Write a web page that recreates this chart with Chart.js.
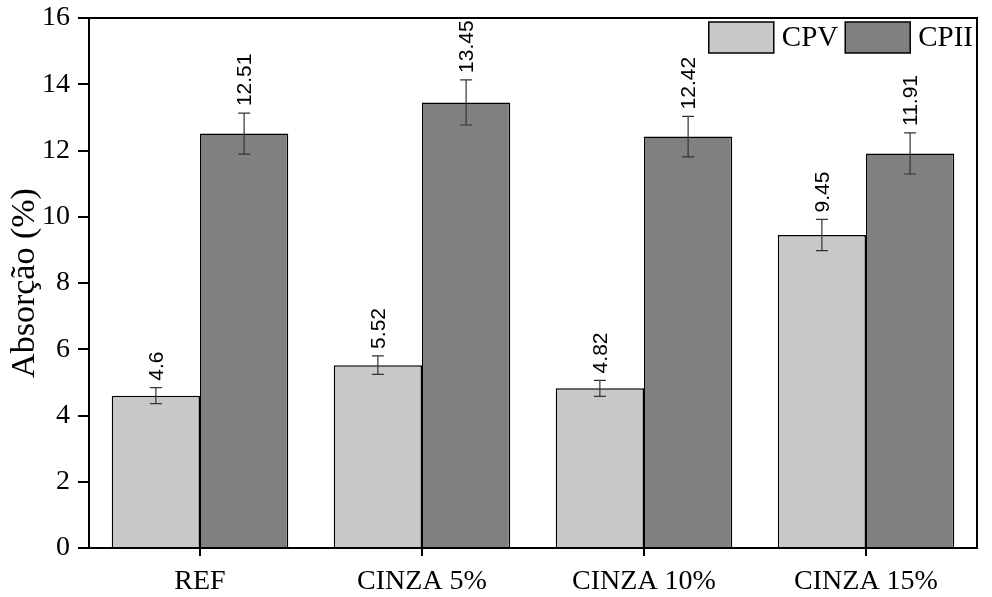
<!DOCTYPE html>
<html>
<head>
<meta charset="utf-8">
<script src="https://cdn.jsdelivr.net/npm/chart.js@4"></script>
<style>
html,body{margin:0;padding:0;background:#fff;}
#wrap{width:992px;height:597px;}
</style>
</head>
<body>
<div id="wrap"><canvas id="c" width="992" height="597"></canvas></div>
<script>
const categories = ["REF", "CINZA 5%", "CINZA 10%", "CINZA 15%"];
const cpvValues = [4.6, 5.52, 4.82, 9.45];
const cpiiValues = [12.51, 13.45, 12.42, 11.91];
const cpvErrors = [0.24, 0.28, 0.24, 0.47];
const cpiiErrors = [0.62, 0.68, 0.61, 0.62];
const yTicks = [0, 2, 4, 6, 8, 10, 12, 14, 16];
const seriesNames = ["CPV", "CPII"];
const FONT = "'Liberation Serif', 'Times New Roman', serif";
const LABEL_FONT = "'Liberation Sans', Arial, sans-serif";

const errorBarPlugin = {
  id: 'errorBars',
  afterDatasetsDraw(chart) {
    const ctx = chart.ctx;
    const y = chart.scales.y;
    const errs = [cpvErrors, cpiiErrors];
    ctx.save();
    chart.data.datasets.forEach((ds, di) => {
      const meta = chart.getDatasetMeta(di);
      meta.data.forEach((bar, i) => {
        const v = ds.data[i];
        const e = errs[di][i];
        const yt = y.getPixelForValue(v + e);
        const yb = y.getPixelForValue(v - e);
        const x = bar.x;
        ctx.strokeStyle = '#333';
        ctx.lineWidth = 1.2;
        ctx.beginPath();
        ctx.moveTo(x, yt); ctx.lineTo(x, yb);
        ctx.moveTo(x - 6, yt); ctx.lineTo(x + 6, yt);
        ctx.moveTo(x - 6, yb); ctx.lineTo(x + 6, yb);
        ctx.stroke();
        ctx.save();
        ctx.translate(x, yt - 7);
        ctx.rotate(-Math.PI / 2);
        ctx.fillStyle = '#000';
        ctx.font = '21px ' + LABEL_FONT;
        ctx.textAlign = 'left';
        ctx.textBaseline = 'middle';
        ctx.fillText(String(v), 0, 1);
        ctx.restore();
      });
    });
    ctx.restore();
  }
};

const framePlugin = {
  id: 'frame',
  afterDraw(chart) {
    const a = chart.chartArea;
    const ctx = chart.ctx;
    ctx.save();
    ctx.strokeStyle = '#000';
    ctx.lineWidth = 2;
    ctx.strokeRect(a.left, a.top, a.right - a.left, a.bottom - a.top);
    ctx.font = '29px ' + FONT;
    ctx.textBaseline = 'middle';
    ctx.textAlign = 'left';
    const items = chart.data.datasets;
    const boxW = 65, boxH = 31, gap = 8;
    const widths = items.map(d => ctx.measureText(d.label).width);
    let total = 0;
    items.forEach((d, i) => { total += boxW + gap + widths[i]; if (i > 0) total += 7; });
    let x = a.right - 4 - total;
    const yTop = a.top + 4;
    items.forEach((d, i) => {
      ctx.fillStyle = d.backgroundColor;
      ctx.fillRect(x, yTop, boxW, boxH);
      ctx.lineWidth = 1.5;
      ctx.strokeStyle = '#000';
      ctx.strokeRect(x, yTop, boxW, boxH);
      ctx.fillStyle = '#000';
      ctx.fillText(d.label, x + boxW + gap, yTop + boxH / 2 + 1);
      x += boxW + gap + widths[i] + 7;
    });
    ctx.restore();
  }
};

new Chart(document.getElementById('c'), {
  type: 'bar',
  data: {
    labels: categories,
    datasets: [
      { label: seriesNames[0], data: cpvValues, backgroundColor: '#c8c8c8', borderColor: '#000', borderWidth: 1.5, barPercentage: 1, categoryPercentage: 0.795 },
      { label: seriesNames[1], data: cpiiValues, backgroundColor: '#808080', borderColor: '#000', borderWidth: 1.5, barPercentage: 1, categoryPercentage: 0.795 }
    ]
  },
  options: {
    responsive: false,
    animation: false,
    devicePixelRatio: 1,
    layout: { padding: { top: 18, right: 15, left: 0, bottom: 0 } },
    plugins: { legend: { display: false }, tooltip: { enabled: false } },
    scales: {
      x: {
        offset: true,
        grid: { display: true, drawOnChartArea: false, drawTicks: true, tickLength: 8, color: '#000', lineWidth: 2, offset: false },
        border: { display: true, color: '#000', width: 2 },
        ticks: { color: '#000', font: { family: FONT, size: 28 }, padding: 9, maxRotation: 0 },
        afterFit(s) { s.height = 49; s.paddingLeft = 0; s.paddingRight = 0; }
      },
      y: {
        min: 0, max: 16,
        afterBuildTicks(s) { s.ticks = yTicks.map(v => ({ value: v })); },
        grid: { display: true, drawOnChartArea: false, drawTicks: true, tickLength: 11, color: '#000', lineWidth: 2 },
        border: { display: true, color: '#000', width: 2 },
        ticks: { color: '#000', font: { family: FONT, size: 28 }, padding: 8 },
        title: { display: true, text: 'Absorção (%)', color: '#000', font: { family: FONT, size: 34 }, padding: { top: 5, bottom: 0 } },
        afterFit(s) { s.width = 89; s.paddingTop = 0; s.paddingBottom = 0; }
      }
    }
  },
  plugins: [errorBarPlugin, framePlugin]
});
</script>
</body>
</html>
